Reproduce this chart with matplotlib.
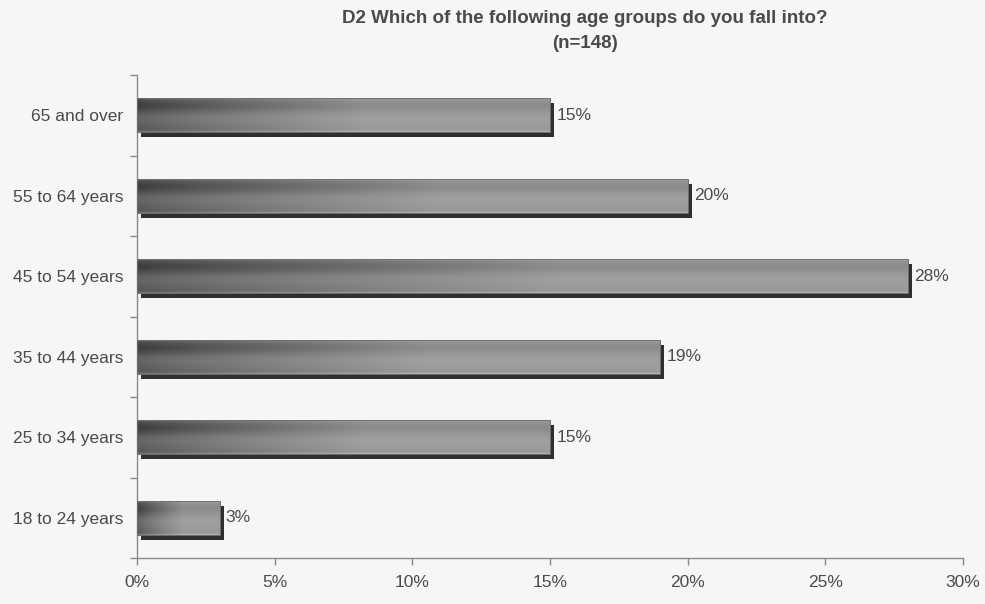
import numpy as np
import matplotlib
matplotlib.use("Agg")
import matplotlib.pyplot as plt
from matplotlib import patheffects as pe
from matplotlib.ticker import FixedLocator, PercentFormatter

plt.rcParams['font.family'] = ['Liberation Sans Narrow', 'Liberation Sans', 'DejaVu Sans']

# Survey results, bottom to top
categories = ["18 to 24 years", "25 to 34 years", "35 to 44 years",
              "45 to 54 years", "55 to 64 years", "65 and over"]
shares = [3, 15, 19, 28, 20, 15]
x_ticks = [0, 5, 10, 15, 20, 25, 30]

title = "D2 Which of the following age groups do you fall into?\n(n=148)"

TEXT = '#4a4a4a'
AXIS = '#8a8a8a'
BG = '#f6f6f6'

fig = plt.figure(figsize=(9.85, 6.04), dpi=100, facecolor=BG)
ax = fig.add_axes([137 / 985, 1 - 558 / 604, (963 - 137) / 985, (558 - 75) / 604])
ax.set_facecolor(BG)

bar_h = 0.42
ypos = np.arange(len(categories))

# shaded face texture: dark on the left fading to grey, darker upper band
nx, ny = 300, 60
u = np.linspace(0, 1, nx)[None, :]
v = np.linspace(0, 1, ny)[:, None]
horiz = 0.34 + 0.26 * np.clip(u / 0.55, 0, 1) ** 0.8
vprof = -0.10 * np.exp(-((v - 0.22) / 0.18) ** 2) + 0.05 * np.exp(-((v - 0.62) / 0.2) ** 2)
amp = 1.0 - 0.5 * np.clip(u / 0.55, 0, 1)
face = horiz + amp * vprof
face[:2, :] += 0.12
face[-2:, :] += 0.10
face = np.clip(face, 0, 1)

bars = ax.barh(ypos, shares, height=bar_h, color='#8e8e8e', edgecolor='none', zorder=2,
               path_effects=[pe.SimplePatchShadow(offset=(2.9, -3.6), shadow_rgbFace='#2f2f2f', alpha=1.0),
                             pe.Normal()])

for rect, val in zip(bars, shares):
    y0 = rect.get_y()
    im = ax.imshow(face, cmap='gray', vmin=0, vmax=1, aspect='auto', interpolation='bilinear',
                   extent=(0, val, y0, y0 + bar_h), origin='upper', zorder=3)
    im.set_clip_path(rect)
    ax.add_patch(plt.Rectangle((0, y0), val, bar_h, fill=False, edgecolor='#6e6e6e',
                               linewidth=0.7, zorder=4))
    ax.annotate(f"{val}%", xy=(val, y0 + bar_h / 2), xytext=(4.5, 0), textcoords='offset points',
                ha='left', va='center', fontsize=12.5, color=TEXT)

ax.set_xlim(0, 30)
ax.set_ylim(-0.5, len(categories) - 0.5)

ax.xaxis.set_major_locator(FixedLocator(x_ticks))
ax.xaxis.set_major_formatter(PercentFormatter(decimals=0))

ax.yaxis.set_major_locator(FixedLocator(np.arange(-0.5, len(categories), 1.0)))
ax.yaxis.set_minor_locator(FixedLocator(ypos))
ax.set_yticklabels([], minor=False)
ax.set_yticklabels(categories, minor=True)
ax.tick_params(axis='y', which='minor', length=0, pad=10, labelsize=12.5, labelcolor=TEXT)
ax.tick_params(axis='y', which='major', length=5, width=1, color=AXIS, direction='out')
ax.tick_params(axis='x', which='major', length=5, width=1, color=AXIS, direction='out',
               labelsize=12.5, labelcolor=TEXT, pad=7)

for s in ('top', 'right'):
    ax.spines[s].set_visible(False)
for s in ('left', 'bottom'):
    ax.spines[s].set_color(AXIS)
    ax.spines[s].set_linewidth(1)

fig.text(585 / 985, 1 - 31 / 604, title, ha='center', va='center', fontsize=13.5,
         fontweight='bold', color=TEXT, linespacing=1.55)

fig.savefig("out.png", dpi=100, facecolor=BG)
